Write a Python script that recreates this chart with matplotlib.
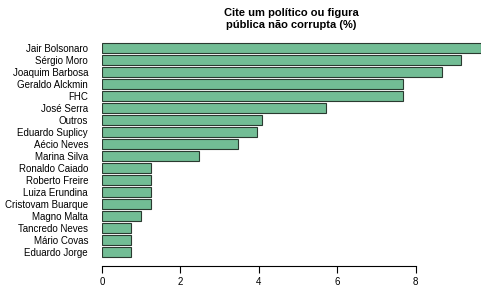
import matplotlib.pyplot as plt
import numpy as np

names = ["Jair Bolsonaro", "Sérgio Moro", "Joaquim Barbosa", "Geraldo Alckmin",
         "FHC", "José Serra", "Outros", "Eduardo Suplicy", "Aécio Neves",
         "Marina Silva", "Ronaldo Caiado", "Roberto Freire", "Luiza Erundina",
         "Cristovam Buarque", "Magno Malta", "Tancredo Neves", "Mário Covas",
         "Eduardo Jorge"]
values = [9.66, 9.16, 8.66, 7.68, 7.68, 5.70, 4.09, 3.96, 3.46, 2.48,
          1.24, 1.24, 1.24, 1.24, 0.99, 0.75, 0.75, 0.75]
xticks = [0, 2, 4, 6, 8]

plt.rcParams["font.family"] = ["Liberation Sans", "DejaVu Sans"]

fig = plt.figure(figsize=(4.87, 3.08), dpi=100)
ax = fig.add_axes([0.2094, 0.1364, 0.778, 0.7338])

y = np.arange(len(names))
ax.barh(y, values, height=0.833, color="#72BD95", edgecolor="#2a3a30", linewidth=0.8)

ax.set_xlim(0, max(values))
ax.set_ylim(18.17, -0.69)
ax.set_yticks(y)
ax.set_yticklabels(names, fontsize=7)
ax.tick_params(axis="y", length=0, pad=10)
ax.set_xticks(xticks)
ax.set_xticklabels([str(t) for t in xticks], fontsize=7)
ax.tick_params(axis="x", length=5, width=0.8, pad=3)

for s in ["top", "right", "left"]:
    ax.spines[s].set_visible(False)
ax.spines["bottom"].set_bounds(0, 8)
ax.spines["bottom"].set_linewidth(0.8)

fig.text(0.598, 0.975, "Cite um político ou figura\npública não corrupta (%)",
         ha="center", va="top", fontsize=8, fontweight="bold", linespacing=1.3)

fig.savefig("out.png", dpi=100)
